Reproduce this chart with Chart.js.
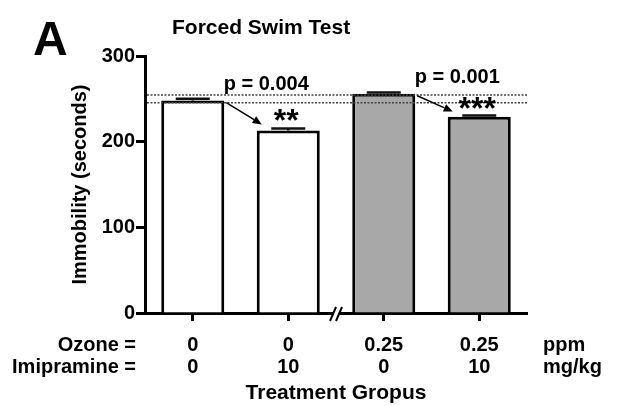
<!DOCTYPE html>
<html>
<head>
<meta charset="utf-8">
<script src="https://cdn.jsdelivr.net/npm/chart.js@4/dist/chart.umd.min.js"></script>
<style>
  body { margin: 0; background: #fff; }
  #chart { display: block; }
</style>
</head>
<body>
<canvas id="chart" width="617" height="406"></canvas>
<script>
// values
const ozone = ['0', '0', '0.25', '0.25'];
const imipramine = ['0', '10', '0', '10'];
const immobility = [248, 213, 256, 229];
const sem = [2, 2.5, 1.5, 1.5];
const yTicks = [0, 100, 200, 300];
const refLines = [254.5, 245.5];
const barFills = ['#ffffff', '#ffffff', '#a8a8a8', '#a8a8a8'];
const comparisons = [
    { from: 0, to: 1, p: 'p = 0.004', stars: '**' },
    { from: 2, to: 3, p: 'p = 0.001', stars: '***' }
];

const FONT = '"Liberation Sans", Arial, sans-serif';

function arrow(ctx, x1, y1, x2, y2) {
    const a = Math.atan2(y2 - y1, x2 - x1);
    const len = 9, half = 4;
    ctx.beginPath();
    ctx.moveTo(x1, y1);
    ctx.lineTo(x2 - Math.cos(a) * len, y2 - Math.sin(a) * len);
    ctx.stroke();
    ctx.beginPath();
    ctx.moveTo(x2, y2);
    ctx.lineTo(x2 - Math.cos(a) * len - Math.sin(a) * half, y2 - Math.sin(a) * len + Math.cos(a) * half);
    ctx.lineTo(x2 - Math.cos(a) * len + Math.sin(a) * half, y2 - Math.sin(a) * len - Math.cos(a) * half);
    ctx.closePath();
    ctx.fill();
}

const annotations = {
    id: 'annotations',
    afterDatasetsDraw(chart) {
        const { ctx, chartArea, scales: { y } } = chart;
        const bars = chart.getDatasetMeta(0).data;
        ctx.save();

        // dotted reference lines
        ctx.strokeStyle = '#444';
        ctx.lineWidth = 1.5;
        ctx.setLineDash([2, 1.5]);
        refLines.forEach(v => {
            const py = y.getPixelForValue(v);
            ctx.beginPath();
            ctx.moveTo(chartArea.left + 2, py);
            ctx.lineTo(chartArea.right, py);
            ctx.stroke();
        });
        ctx.setLineDash([]);

        // error bars (upper half only)
        ctx.strokeStyle = '#111';
        ctx.lineWidth = 2.5;
        bars.forEach((bar, i) => {
            const top = y.getPixelForValue(immobility[i] + sem[i]);
            ctx.beginPath();
            ctx.moveTo(bar.x, bar.y);
            ctx.lineTo(bar.x, top);
            ctx.moveTo(bar.x - 17, top);
            ctx.lineTo(bar.x + 17, top);
            ctx.stroke();
        });

        // comparisons: arrow, p value, stars
        ctx.fillStyle = '#000';
        ctx.strokeStyle = '#000';
        ctx.lineWidth = 1.5;
        comparisons.forEach(c => {
            const a = bars[c.from], b = bars[c.to];
            const capA = y.getPixelForValue(immobility[c.from] + sem[c.from]);
            const capB = y.getPixelForValue(immobility[c.to] + sem[c.to]);
            arrow(ctx, a.x + a.width / 2 + 2, a.y + 2, b.x - b.width / 2 + 5, capB - 4);

            ctx.font = `bold 20px ${FONT}`;
            ctx.textAlign = 'center';
            ctx.textBaseline = 'alphabetic';
            ctx.fillText(c.p, b.x - 22, capA - 9);

            ctx.font = `bold 32px ${FONT}`;
            ctx.fillText(c.stars, b.x - 2, capB + 3);
        });
        ctx.restore();
    },
    afterDraw(chart) {
        const { ctx, chartArea, scales: { x } } = chart;
        ctx.save();
        ctx.fillStyle = '#000';
        ctx.textBaseline = 'alphabetic';

        ctx.font = `bold 48px ${FONT}`;
        ctx.textAlign = 'left';
        ctx.fillText('A', 33, 55);

        ctx.font = `bold 21px ${FONT}`;
        ctx.fillText('Forced Swim Test', 172, 34);

        // row headers and units beside the category labels
        ctx.font = `bold 20px ${FONT}`;
        ctx.textBaseline = 'middle';
        ctx.textAlign = 'right';
        ctx.fillText('Ozone =', 136, 345);
        ctx.fillText('Imipramine =', 136, 367);
        ctx.textAlign = 'left';
        ctx.fillText('ppm', 543, 345);
        ctx.fillText('mg/kg', 543, 367);

        // axis break between the 0 and 0.25 ppm groups
        const bx = (x.getPixelForValue(1) + x.getPixelForValue(2)) / 2;
        const by = chartArea.bottom;
        ctx.fillStyle = '#fff';
        ctx.beginPath();
        ctx.moveTo(bx - 6, by + 8);
        ctx.lineTo(bx, by - 6);
        ctx.lineTo(bx + 6, by - 6);
        ctx.lineTo(bx, by + 8);
        ctx.closePath();
        ctx.fill();
        ctx.strokeStyle = '#000';
        ctx.lineWidth = 2;
        ctx.beginPath();
        ctx.moveTo(bx - 6, by + 8);
        ctx.lineTo(bx, by - 6);
        ctx.moveTo(bx, by + 8);
        ctx.lineTo(bx + 6, by - 6);
        ctx.stroke();
        ctx.restore();
    }
};

new Chart(document.getElementById('chart'), {
    type: 'bar',
    data: {
        labels: ozone.map((o, i) => [o, imipramine[i]]),
        datasets: [{
            data: immobility,
            backgroundColor: barFills,
            borderColor: '#000',
            borderWidth: 3,
            borderSkipped: 'start',
            barPercentage: 0.66,
            categoryPercentage: 1
        }]
    },
    options: {
        responsive: false,
        animation: false,
        layout: { padding: { top: 56, right: 90, bottom: 0, left: 0 } },
        plugins: { legend: { display: false }, tooltip: { enabled: false } },
        scales: {
            x: {
                z: 1,
                offset: true,
                afterFit: s => { s.height = 93; },
                border: { display: true, color: '#000', width: 3 },
                grid: { offset: false, drawOnChartArea: false, tickLength: 8, tickWidth: 3, tickColor: '#000' },
                ticks: { color: '#000', padding: 13, font: { family: FONT, size: 20, weight: 'bold', lineHeight: 1.1 } },
                title: {
                    display: true, text: 'Treatment Gropus', color: '#000',
                    padding: { top: 0, bottom: 0 },
                    font: { family: FONT, size: 21, weight: 'bold', lineHeight: 1.2 }
                }
            },
            y: {
                z: 1,
                min: 0,
                max: 300,
                afterFit: s => { s.width = 145; },
                afterBuildTicks: s => { s.ticks = yTicks.map(v => ({ value: v })); },
                border: { display: true, color: '#000', width: 3 },
                grid: { drawOnChartArea: false, tickLength: 9, tickWidth: 3, tickColor: '#000' },
                ticks: { color: '#000', padding: 1, font: { family: FONT, size: 20, weight: 'bold' } },
                title: {
                    display: true, text: 'Immobility (seconds)', color: '#000',
                    padding: { top: 68, bottom: 0 },
                    font: { family: FONT, size: 20, weight: 'bold', lineHeight: 1.2 }
                }
            }
        }
    },
    plugins: [annotations]
});
</script>
</body>
</html>
